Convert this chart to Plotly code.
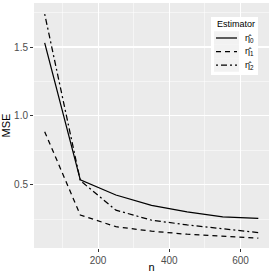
import plotly.graph_objects as go

n = [50, 150, 250, 350, 450, 550, 650]
eta0 = [1.53, 0.535, 0.425, 0.35, 0.303, 0.266, 0.255]
eta1 = [0.885, 0.28, 0.195, 0.162, 0.14, 0.125, 0.112]
eta2 = [1.74, 0.53, 0.315, 0.242, 0.208, 0.18, 0.152]
names = ["η̂<sub>0</sub>", "η̂<sub>1</sub>", "η̂<sub>2</sub>"]
dashes = ["solid", "5px,4px", "2px,3px,6px,3px"]
legend_title = "Estimator"

W, H = 273, 273
L, R, T, B = 34, 4, 3, 25
PW, PH = W - L - R, H - T - B


def px(x):
    return (x - L) / PW


def py(y):
    return (H - B - y) / PH


FONT = "Liberation Sans, Arial"
LW = 1.25

fig = go.Figure()
for ys, nm, d in zip([eta0, eta1, eta2], names, dashes):
    fig.add_trace(go.Scatter(x=n, y=ys, mode="lines", name=nm, showlegend=False,
                             hoverinfo="skip",
                             line=dict(color="black", width=LW, dash=d)))

axis_common = dict(showgrid=True, gridcolor="white", gridwidth=1.1,
                   ticks="outside", ticklen=3, tickcolor="#333333", automargin=False,
                   tickfont=dict(family=FONT, size=10, color="#4D4D4D"),
                   zeroline=False, showline=False)

fig.update_xaxes(range=[20, 680], tickvals=[200, 400, 600], **axis_common,
                 title=dict(text="n", standoff=0, font=dict(family=FONT, size=11, color="#000000")),
                 minor=dict(showgrid=True, gridcolor="white", gridwidth=0.5, ticks="",
                            tickvals=[100, 300, 500]))
fig.update_yaxes(range=[0.04, 1.82], tickvals=[0.5, 1.0, 1.5], ticktext=["0.5", "1.0", "1.5"],
                 **axis_common,
                 title=dict(text="MSE", standoff=2, font=dict(family=FONT, size=11, color="#000000")),
                 minor=dict(showgrid=True, gridcolor="white", gridwidth=0.5, ticks="",
                            tickvals=[0.25, 0.75, 1.25, 1.75]))

shapes = []
annotations = []
# legend box
shapes.append(dict(type="rect", xref="paper", yref="paper", x0=px(211), x1=px(258),
                   y0=py(75), y1=py(17), fillcolor="white", line=dict(width=0), layer="above"))
annotations.append(dict(text=legend_title, xref="paper", yref="paper", x=px(214.5), y=py(24),
                        xanchor="left", yanchor="middle", showarrow=False,
                        font=dict(family=FONT, size=9, color="black")))
key_y = [38, 51.5, 65]
for ky, nm, d in zip(key_y, names, dashes):
    shapes.append(dict(type="rect", xref="paper", yref="paper", x0=px(214), x1=px(239),
                       y0=py(ky + 6.75), y1=py(ky - 6.75), fillcolor="#F2F2F2",
                       line=dict(width=0), layer="above"))
    shapes.append(dict(type="line", xref="paper", yref="paper", x0=px(216), x1=px(237),
                       y0=py(ky), y1=py(ky), line=dict(color="black", width=LW, dash=d),
                       layer="above"))
    annotations.append(dict(text=nm, xref="paper", yref="paper", x=px(243), y=py(ky),
                            xanchor="left", yanchor="middle", showarrow=False,
                            font=dict(family=FONT, size=9, color="black")))

fig.update_layout(
    width=W, height=H,
    margin=dict(l=L, r=R, t=T, b=B),
    plot_bgcolor="#EBEBEB", paper_bgcolor="white",
    showlegend=False, hovermode=False,
    shapes=shapes, annotations=annotations,
)
fig.write_html("out.html",
               config={"displayModeBar": False, "staticPlot": True},
               post_script="document.body.style.margin='0';document.body.style.padding='0';")
